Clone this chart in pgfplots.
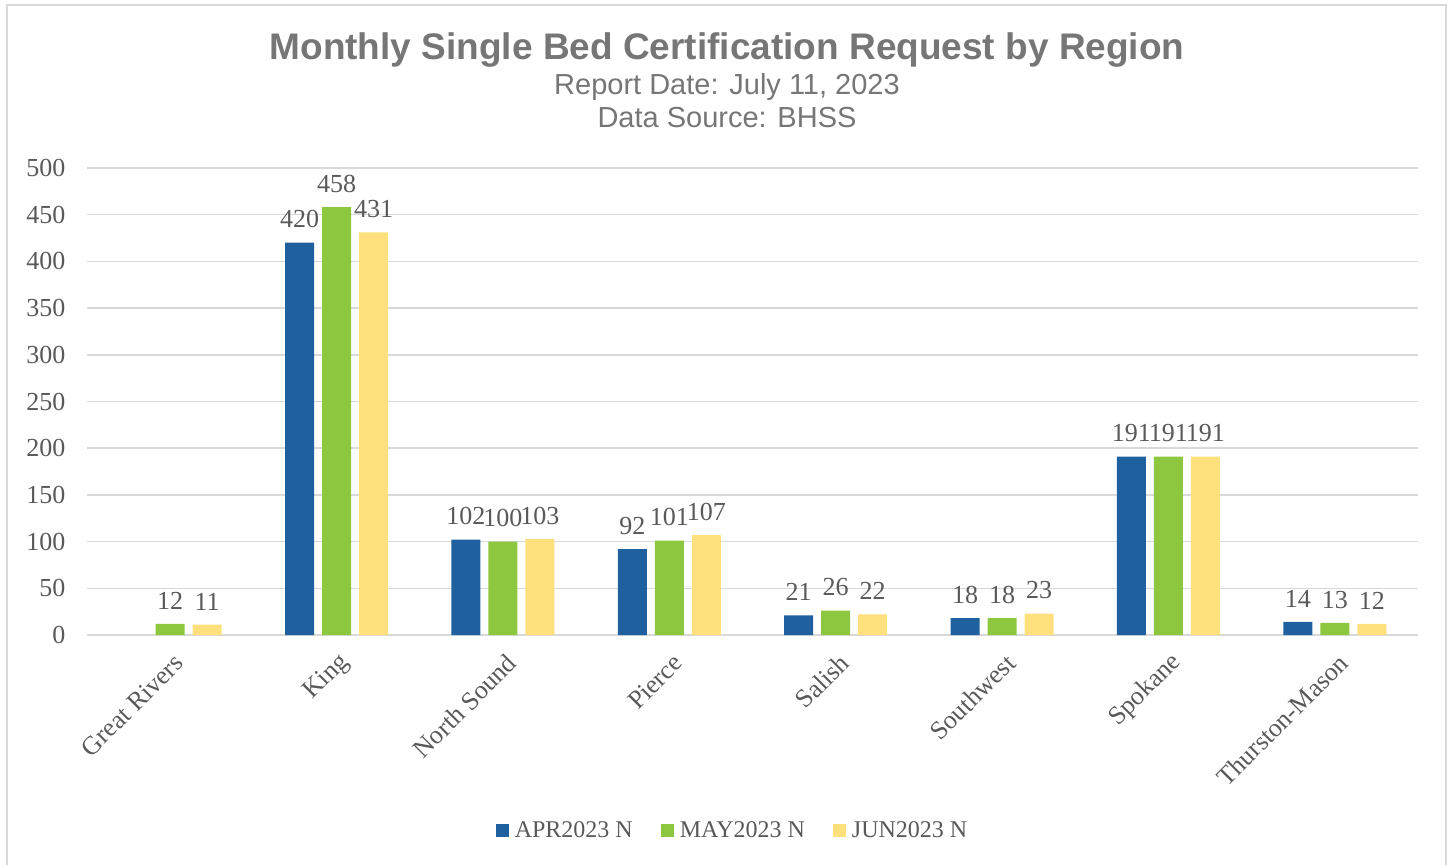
\documentclass[border=0pt]{standalone}
\usepackage{pgfplots}
\pgfplotsset{compat=1.18}
\usepackage{fontspec}
\setmainfont{Liberation Serif}
\newfontfamily\titlefont{Liberation Sans}
\definecolor{cblue}{RGB}{31,96,158}
\definecolor{cgreen}{RGB}{141,198,63}
\definecolor{cyellow}{RGB}{255,224,124}
\definecolor{gridc}{RGB}{217,217,217}
\definecolor{txt}{RGB}{89,89,89}
\definecolor{ttl}{RGB}{118,118,118}
\begin{document}
\begin{tikzpicture}[x=1pt,y=1pt]
\useasboundingbox (0,0) rectangle (1453,865);
\draw[gridc, line width=2pt] (7,0) -- (7,860) -- (1446,860) -- (1446,0);
\node[font=\titlefont\bfseries\fontsize{37}{40}\selectfont, text=ttl, anchor=base] at (727,805) {Monthly Single Bed Certification Request by Region};
\node[font=\titlefont\fontsize{29}{32}\selectfont, text=ttl, anchor=base] at (727,770) {Report Date: July 11, 2023};
\node[font=\titlefont\fontsize{29}{32}\selectfont, text=ttl, anchor=base] at (727,737) {Data Source: BHSS};
\begin{axis}[
  at={(87pt,230pt)}, anchor=south west,
  scale only axis, width=1331pt, height=467pt,
  xmin=-0.5, xmax=7.5, ymin=0, ymax=500,
  ytick={0,50,...,500},
  xtick={0,...,7},
  xticklabels={Great Rivers,King,North Sound,Pierce,Salish,Southwest,Spokane,Thurston-Mason},
  axis line style={draw=none},
  tick style={draw=none},
  ymajorgrids, grid style={gridc, line width=1.5pt},
  /pgf/number format/assume math mode=true,
  tick label style={font=\fontsize{26}{26}\selectfont, text=txt},
  yticklabel style={xshift=-18pt},
  xticklabel style={rotate=45, anchor=east, xshift=-4pt, yshift=-20pt},
  ybar, bar width=29pt,
  nodes near coords,
  nodes near coords style={font=\fontsize{26}{26}\selectfont, text=txt, yshift=11pt},
  legend style={at={(0.485,-0.4176)}, anchor=center, draw=none, legend columns=3,
    font=\fontsize{24}{24}\selectfont, text=txt,
    /tikz/every odd column/.append style={column sep=4pt},
    /tikz/every even column/.append style={column sep=26pt}},
  legend image code/.code={\fill[#1] (0pt,-6.5pt) rectangle (13pt,6.5pt);},
]
\addplot[fill=cblue, draw=none, bar shift=-37pt] coordinates {(1,420) (2,102) (3,92) (4,21) (5,18) (6,191) (7,14)};
\addplot[fill=cgreen, draw=none, bar shift=0pt] coordinates {(0,12) (1,458) (2,100) (3,101) (4,26) (5,18) (6,191) (7,13)};
\addplot[fill=cyellow, draw=none, bar shift=37pt] coordinates {(0,11) (1,431) (2,103) (3,107) (4,22) (5,23) (6,191) (7,12)};
\legend{APR2023 N, MAY2023 N, JUN2023 N}
\end{axis}
\end{tikzpicture}
\end{document}
